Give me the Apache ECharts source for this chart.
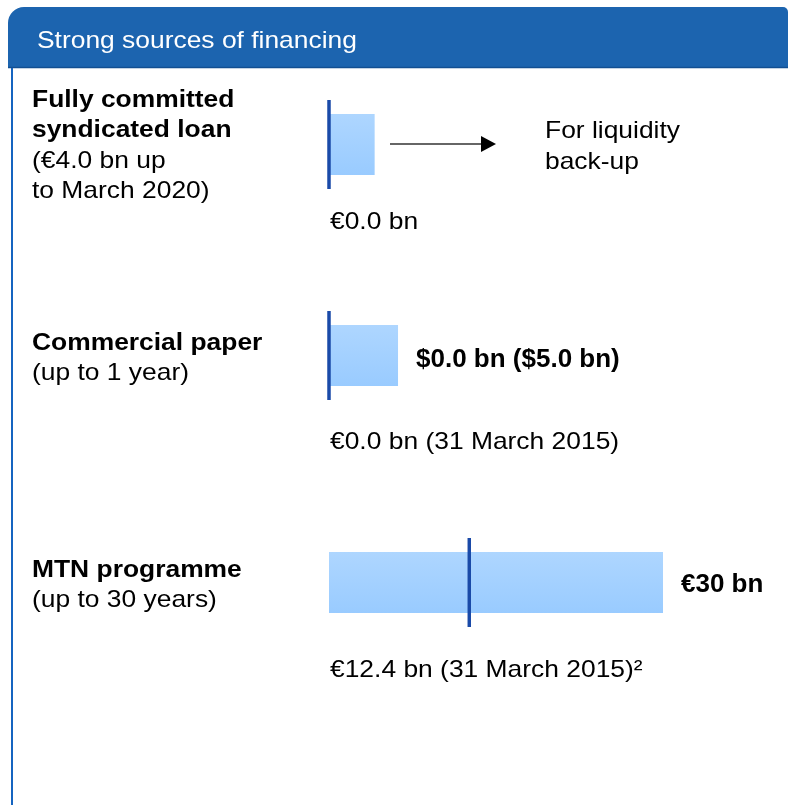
<!DOCTYPE html>
<html>
<head>
<meta charset="utf-8">
<script src="https://cdn.jsdelivr.net/npm/echarts@6/dist/echarts.min.js"></script>
<style>
  html, body { margin: 0; padding: 0; background: #fff; }
  #chart { width: 788px; height: 805px; }
</style>
</head>
<body>
<div id="chart"></div>
<script>
// facilities (bar length, € bn) and amount drawn (marker, € bn)
const categories = ['Fully committed syndicated loan', 'Commercial paper', 'MTN programme']
const facilityValues = [4.1, 6.2, 30]
const outstandingValues = [0, 0, 12.6]
const facilityLabels = ['', '$0.0 bn ($5.0 bn)', '€30 bn']
const outstandingLabels = ['€0.0 bn', '€0.0 bn (31 March 2015)', '€12.4 bn (31 March 2015)²']
const titleLines = [['Fully committed', 'syndicated loan'], ['Commercial paper'], ['MTN programme']]
const noteLines = [['(€4.0 bn up', 'to March 2020)'], ['(up to 1 year)'], ['(up to 30 years)']]
const axisMax = 30

const FONT = '"Liberation Sans", Arial, sans-serif'
const SX = 1.1 // source picture is a little wider than tall
const rowTops = [100, 311, 538] // grid tops
const rowHeight = 89
const leftTextY = [100, 343, 570]
const outstandingY = [222, 442, 670]
const lineGap = 30.5

const text = (str, x, y, opts = {}) => ({
  type: 'text',
  x: x,
  y: y,
  scaleX: SX,
  style: {
    text: str,
    font: `${opts.bold ? 'bold ' : ''}${opts.size || 24}px ${FONT}`,
    fill: opts.color || '#000',
    align: 'left',
    verticalAlign: 'middle'
  }
})

const graphics = [
  // header
  {
    type: 'rect',
    shape: { x: 8, y: 7, width: 780, height: 60, r: [16, 5, 0, 0] },
    style: { fill: '#1c64af' }
  },
  { type: 'line', shape: { x1: 8, y1: 67.5, x2: 788, y2: 67.5 }, style: { stroke: '#124f92', lineWidth: 1.5 } },
  { type: 'line', shape: { x1: 12, y1: 68, x2: 12, y2: 805 }, style: { stroke: '#1564c0', lineWidth: 2 } },
  text('Strong sources of financing', 37, 41, { color: '#fff' }),
  // arrow
  { type: 'line', shape: { x1: 390, y1: 144, x2: 484, y2: 144 }, style: { stroke: '#333', lineWidth: 1.5 } },
  { type: 'polygon', shape: { points: [[481, 136], [496, 144], [481, 152]] }, style: { fill: '#000' } },
  text('For liquidity', 545, 131),
  text('back-up', 545, 162)
]

categories.forEach((c, i) => {
  let y = leftTextY[i]
  titleLines[i].forEach(t => {
    graphics.push(text(t, 32, y, { bold: true }))
    y += lineGap
  })
  noteLines[i].forEach(t => {
    graphics.push(text(t, 32, y))
    y += lineGap
  })
  graphics.push(text(outstandingLabels[i], 330, outstandingY[i]))
})

const grids = []
const xAxes = []
const yAxes = []
const series = []

categories.forEach((c, i) => {
  grids.push({ left: 329, right: 125, top: rowTops[i], height: rowHeight })
  xAxes.push({ type: 'value', gridIndex: i, min: 0, max: axisMax, show: false })
  yAxes.push({ type: 'category', gridIndex: i, data: [c], show: false })
  series.push({
    type: 'bar',
    xAxisIndex: i,
    yAxisIndex: i,
    barWidth: 61,
    itemStyle: {
      color: new echarts.graphic.LinearGradient(0, 0, 0, 1, [
        { offset: 0, color: '#aed6ff' },
        { offset: 1, color: '#99cbff' }
      ])
    },
    label: {
      show: !!facilityLabels[i],
      position: 'right',
      distance: 18,
      offset: [0, i === 1 ? 4 : 2],
      formatter: () => facilityLabels[i],
      fontFamily: FONT,
      fontWeight: 'bold',
      fontSize: 26,
      color: '#000'
    },
    data: [facilityValues[i]],
    silent: true
  })
  series.push({
    type: 'scatter',
    xAxisIndex: i,
    yAxisIndex: i,
    symbol: 'rect',
    symbolSize: [3.5, rowHeight],
    itemStyle: { color: '#1a4aa8', opacity: 1 },
    data: [[outstandingValues[i], 0]],
    z: 5,
    silent: true
  })
})

const myChart = echarts.init(document.getElementById('chart'))
myChart.setOption({
  animation: false,
  grid: grids,
  xAxis: xAxes,
  yAxis: yAxes,
  graphic: graphics,
  series: series
})
</script>
</body>
</html>
